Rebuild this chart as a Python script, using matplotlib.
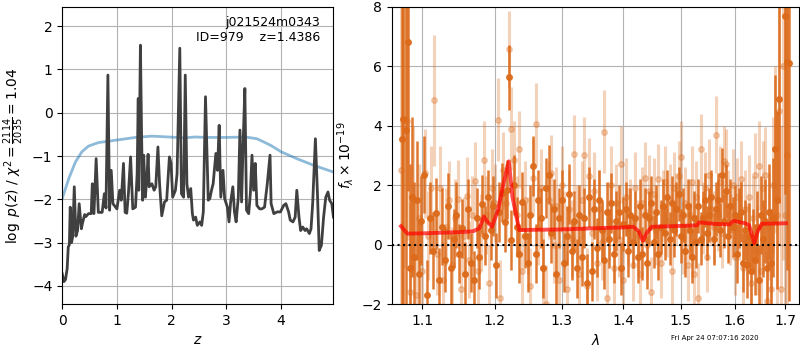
import numpy as np
import matplotlib
matplotlib.use('Agg')
import matplotlib.pyplot as plt
from matplotlib.ticker import FormatStrFormatter, NullLocator, NullFormatter

# --- p(z) panel ---
z_grid = [0.0, 0.03, 0.06, 0.09, 0.11, 0.13, 0.146, 0.17, 0.19, 0.22, 0.25, 0.28, 0.31, 0.35,
          0.37, 0.41, 0.43, 0.48, 0.53, 0.55, 0.58, 0.62, 0.66, 0.73, 0.77, 0.80, 0.835, 0.866,
          0.896, 0.927, 1.0, 1.05, 1.08, 1.12, 1.15, 1.18, 1.21, 1.25, 1.29, 1.34, 1.37, 1.39,
          1.40, 1.43, 1.45, 1.47, 1.49, 1.52, 1.55, 1.57, 1.59, 1.64, 1.68, 1.71, 1.75, 1.78,
          1.82, 1.87, 1.91, 1.96, 1.99, 2.02, 2.07, 2.10, 2.15, 2.18, 2.22, 2.25, 2.28, 2.31,
          2.35, 2.38, 2.40, 2.44, 2.47, 2.52, 2.55, 2.58, 2.62, 2.67, 2.70, 2.73, 2.76, 2.81,
          2.84, 2.87, 2.90, 2.94, 2.97, 3.02, 3.05, 3.08, 3.12, 3.15, 3.18, 3.22, 3.25, 3.28,
          3.31, 3.34, 3.37, 3.41, 3.44, 3.47, 3.50, 3.53, 3.56, 3.61, 3.65, 3.70, 3.75, 3.80,
          3.82, 3.87, 3.93, 3.99, 4.05, 4.09, 4.14, 4.17, 4.22, 4.26, 4.29, 4.33, 4.36, 4.40,
          4.44, 4.47, 4.52, 4.55, 4.58, 4.63, 4.67, 4.70, 4.74, 4.78, 4.82, 4.86, 4.89, 4.93, 4.96]
log_pz = [-3.72, -3.90, -3.85, -3.60, -3.10, -3.05, -2.18, -3.00, -2.87, -1.71, -2.85, -2.72, -2.10, -2.68,
          -2.55, -2.35, -2.40, -2.33, -2.33, -1.64, -2.33, -1.06, -2.30, -2.30, -1.87, -2.20, 0.87, -2.25,
          -1.33, -2.10, -2.22, -1.79, -2.02, -1.17, -2.30, -2.32, -1.87, -1.02, -2.22, -2.18, -1.41, 0.33,
          -1.79, 1.56, -0.40, -2.02, -0.98, -1.95, -1.48, -0.96, -1.71, -1.64, -1.79, -1.71, -0.79, -1.64,
          -2.38, -2.06, -2.02, -1.02, -1.17, -1.95, -1.79, -1.41, 1.49, -1.87, -1.95, 0.87, -1.64, -1.95,
          -1.75, -2.33, -2.48, -2.41, -2.60, -2.52, -2.60, -2.29, 0.37, -2.02, -1.98, -1.79, -1.64, -0.94,
          -1.33, -0.29, -1.95, -1.33, -1.98, -2.18, -2.52, -2.06, -1.71, -2.29, -2.52, -1.95, -0.40, -2.06,
          -0.63, 0.56, -2.25, -2.33, -1.87, -0.98, -1.79, -1.17, -2.14, -2.22, -2.22, -2.18, -1.64, -0.98,
          -2.10, -2.33, -2.29, -2.29, -2.14, -2.10, -2.29, -2.48, -2.52, -2.41, -1.79, -2.41, -2.72, -2.64,
          -2.72, -2.68, -2.79, -2.68, -2.10, -0.60, -1.95, -3.18, -3.06, -2.41, -1.95, -1.83, -2.02, -2.10, -2.41]

z_chi = [0.0, 0.12, 0.24, 0.36, 0.48, 0.66, 1.0, 1.34, 1.64, 1.95, 2.22, 2.43, 2.65, 3.0, 3.35, 3.56,
         3.81, 4.0, 4.29, 4.59, 4.96]
chi_curve = [-1.98, -1.52, -1.14, -0.90, -0.77, -0.69, -0.63, -0.57, -0.54, -0.56, -0.58, -0.56, -0.57,
             -0.57, -0.56, -0.60, -0.75, -0.90, -1.06, -1.21, -1.37]

# --- spectrum panel ---
model_lam = [1.0723, 1.0804, 1.10, 1.15, 1.169, 1.178, 1.1842, 1.190, 1.196, 1.205, 1.212, 1.2203,
             1.2256, 1.2356, 1.26, 1.30, 1.35, 1.40, 1.4169, 1.426, 1.4332, 1.440, 1.4486, 1.50, 1.5297,
             1.533, 1.56, 1.59, 1.598, 1.62, 1.628, 1.638, 1.645, 1.653, 1.680, 1.7014]
model_flux = [0.62, 0.37, 0.38, 0.42, 0.45, 0.55, 0.94, 0.75, 0.60, 1.20, 2.00, 2.80,
              1.60, 0.49, 0.50, 0.51, 0.55, 0.58, 0.60, 0.45, 0.13, 0.40, 0.60, 0.63, 0.65,
              0.75, 0.70, 0.68, 0.80, 0.72, 0.65, 0.05, 0.45, 0.70, 0.71, 0.72]

dark_lam = [1.0732, 1.0750, 1.0787, 1.0810, 1.0834, 1.0863, 1.0893, 1.0926, 1.0950,
            1.098, 1.102, 1.106, 1.110, 1.114, 1.118, 1.122, 1.126, 1.130, 1.134,
            1.138, 1.142, 1.146, 1.150, 1.154, 1.158, 1.162, 1.166, 1.170, 1.174,
            1.178, 1.182, 1.186, 1.190, 1.194, 1.198, 1.202, 1.206, 1.210, 1.214,
            1.217, 1.2203, 1.224, 1.228, 1.232, 1.236, 1.240, 1.244, 1.248, 1.252,
            1.256, 1.260, 1.264, 1.268, 1.272, 1.276, 1.280, 1.284, 1.288, 1.292,
            1.296, 1.300, 1.304, 1.308, 1.312, 1.316, 1.320, 1.324, 1.328, 1.332,
            1.336, 1.340, 1.344, 1.348, 1.352, 1.356, 1.360, 1.364, 1.368, 1.372,
            1.376, 1.380, 1.384, 1.388, 1.392, 1.396, 1.400, 1.404, 1.408, 1.412,
            1.416, 1.420, 1.424, 1.428, 1.432, 1.436, 1.440, 1.444, 1.448, 1.452,
            1.456, 1.460, 1.464, 1.468, 1.472, 1.476, 1.480, 1.484, 1.488, 1.492,
            1.496, 1.500, 1.504, 1.508, 1.512, 1.516, 1.520, 1.524, 1.528, 1.532,
            1.536, 1.540, 1.544, 1.548, 1.552, 1.556, 1.560, 1.564, 1.568, 1.572,
            1.576, 1.580, 1.584, 1.588, 1.592, 1.596, 1.600, 1.604, 1.608, 1.612,
            1.616, 1.620, 1.624, 1.628, 1.632, 1.636, 1.640, 1.644, 1.648, 1.652,
            1.656, 1.660, 1.664, 1.668, 1.672, 1.676, 1.680, 1.684, 1.688, 1.699,
            1.703, 1.707]
dark_flux = [3.55, 4.22, 3.85, 6.80, -0.80, 1.60, -0.40, 1.50, -1.00,
             0.80, 2.35, -1.70, 0.90, -0.20, 1.05, -1.20, 0.60, -0.50, 1.30,
             -0.80, 0.20, 1.00, -0.30, 0.55, -1.00, 1.20, -0.60, -1.20, 0.90,
             -0.40, 1.35, 0.30, 1.60, 0.50, 1.30, -0.70, 1.10, 1.75, 0.75,
             1.85, 5.62, 0.15, 2.00, 0.60, -0.30, 1.45, 0.30, -0.60, 1.00,
             2.65, -0.30, 1.50, 0.90, -0.80, 1.90, 2.35, 0.40, 1.20, -1.00,
             0.90, 1.50, -0.60, 0.30, 1.70, -0.20, 0.80, -0.80, 1.00, -0.40,
             0.90, -1.30, 1.60, -0.90, 1.20, -0.10, 1.50, 0.50, -0.50, 1.10,
             0.20, 1.40, -0.30, 0.80, 1.10, -0.80, 0.70, 1.20, -0.20, 1.00,
             0.10, 0.90, -0.40, 1.30, -0.30, 1.00, -0.60, 0.90, 1.40, 0.10,
             1.10, -0.30, 0.60, 1.30, 0.40, 1.60, 0.20, 1.40, 0.50, 1.20,
             1.70, 0.30, 1.00, -0.20, 1.30, 0.50, -0.40, 0.90, 0.10, 1.30,
             0.20, 0.90, 1.50, 0.40, 1.00, 1.60, 0.20, 1.20, 1.50, 0.50,
             2.35, 0.80, 1.80, 0.30, 1.30, 0.60, 1.00, -0.30, 0.90, 1.10,
             -0.60, 0.50, -0.70, 0.30, -0.90, 0.10, -0.50, 0.60, -1.20, 1.00,
             0.20, 0.80, -0.80, 1.10, -0.60, 0.90, 3.20, 1.50, 4.90, 7.70,
             6.15, 6.10]
dark_err = [8.0, 7.0, 6.0, 5.0, 3.5, 2.7, 2.5, 2.0, 1.8,
            1.5, 1.3, 1.2, 1.2, 1.3, 1.2, 1.1, 1.3, 1.1, 1.1,
            1.2, 1.0, 1.1, 1.0, 1.0, 1.1, 1.0, 1.0, 1.0, 1.0,
            1.1, 1.0, 1.0, 0.9, 1.0, 1.0, 1.1, 1.0, 1.0, 1.0,
            1.0, 1.1, 1.0, 1.0, 1.0, 1.0, 1.0, 1.1, 1.0, 1.0,
            1.0, 1.0, 1.0, 1.0, 1.0, 1.0, 1.0, 1.0, 1.0, 1.0,
            1.0, 1.0, 1.0, 1.0, 1.0, 1.0, 1.0, 1.0, 1.0, 1.0,
            1.0, 1.0, 1.0, 1.0, 1.0, 1.0, 1.0, 1.0, 1.0, 1.0,
            1.0, 1.0, 1.0, 1.0, 0.9, 0.9, 0.9, 0.9, 0.9, 0.9,
            0.9, 0.9, 0.9, 0.9, 0.9, 0.9, 0.9, 0.9, 0.9, 0.9,
            0.9, 0.9, 0.9, 0.9, 0.9, 0.9, 0.9, 0.9, 0.9, 0.9,
            0.9, 0.9, 0.9, 0.9, 0.9, 0.9, 0.9, 0.9, 0.9, 0.9,
            0.9, 0.9, 0.9, 0.9, 0.9, 0.9, 0.9, 0.9, 0.9, 0.9,
            0.9, 0.9, 0.9, 0.9, 0.9, 1.0, 1.0, 1.0, 1.0, 1.0,
            1.0, 1.0, 1.1, 1.1, 1.1, 1.1, 1.2, 1.2, 1.2, 1.3,
            1.3, 1.4, 1.5, 1.6, 1.8, 2.0, 2.5, 3.0, 3.5, 6.0,
            7.0, 8.0]

light_lam = [1.072, 1.076, 1.080, 1.084, 1.088, 1.092, 1.096, 1.100, 1.104, 1.108, 1.112, 1.116,
             1.120, 1.124, 1.128, 1.132, 1.136, 1.140, 1.144, 1.148, 1.152, 1.156, 1.160, 1.164,
             1.168, 1.172, 1.176, 1.180, 1.184, 1.188, 1.192, 1.196, 1.200, 1.204, 1.208, 1.212,
             1.216, 1.2205, 1.224, 1.228, 1.232, 1.236, 1.240, 1.244, 1.248, 1.252, 1.256, 1.260,
             1.264, 1.268, 1.272, 1.276, 1.280, 1.284, 1.288, 1.292, 1.296, 1.300, 1.304, 1.308,
             1.312, 1.316, 1.320, 1.324, 1.328, 1.332, 1.336, 1.340, 1.344, 1.348, 1.352, 1.356,
             1.360, 1.364, 1.368, 1.372, 1.376, 1.380, 1.384, 1.388, 1.392, 1.396, 1.400, 1.404,
             1.408, 1.412, 1.416, 1.420, 1.424, 1.428, 1.432, 1.436, 1.440, 1.444, 1.448, 1.452,
             1.456, 1.460, 1.464, 1.468, 1.472, 1.476, 1.480, 1.484, 1.488, 1.492, 1.496, 1.500,
             1.504, 1.508, 1.512, 1.516, 1.520, 1.524, 1.528, 1.532, 1.536, 1.540, 1.544, 1.548,
             1.552, 1.556, 1.560, 1.564, 1.568, 1.572, 1.576, 1.580, 1.584, 1.588, 1.592, 1.596,
             1.600, 1.604, 1.608, 1.612, 1.616, 1.620, 1.624, 1.628, 1.632, 1.636, 1.640, 1.644,
             1.648, 1.652, 1.656, 1.660, 1.664, 1.668, 1.672, 1.676, 1.680, 1.684, 1.688, 1.692,
             1.696, 1.700, 1.704]
light_flux = [2.50, 4.20, 4.15, -1.60, 1.50, -1.70, 0.90, -0.90, 2.40, 0.30, 1.90, 4.85,
              -0.30, 1.90, -1.20, 0.60, 1.50, -0.70, 0.90, 1.55, -1.50, 0.30, 1.65, -0.50,
              1.00, 2.15, -0.90, 0.40, 2.85, 1.00, -1.30, 1.90, 1.40, 4.20, -1.80, 2.50,
              1.40, 6.57, 3.90, 2.85, 1.00, 3.20, -0.90, 1.50, 0.30, -1.40, 2.25, 4.05,
              0.60, 1.90, -0.80, -2.00, 1.50, 2.40, 0.00, 1.30, -1.20, 2.00, 0.50, -1.50,
              1.20, 0.20, 3.05, 0.70, -1.00, 1.50, 3.00, -1.40, 2.30, 0.40, 1.80, -0.60,
              1.20, 0.10, 3.80, -1.80, 0.80, 2.00, -0.80, 1.40, 0.20, 2.70, -1.20, 1.60,
              0.60, 1.00, -0.70, 1.90, 0.30, -1.00, 1.40, 2.25, 0.00, 1.80, -1.60, 1.70,
              0.50, 2.20, -0.60, 1.30, 2.10, 0.80, 1.50, -0.90, 1.90, 1.20, 2.30, 2.95,
              0.20, 1.40, -0.70, 1.00, 2.10, -1.00, 1.60, -1.80, 3.20, 0.90, 1.90, -0.40,
              2.35, 1.20, 0.60, 3.70, 1.00, 2.10, 0.40, 2.80, 2.70, 1.30, 0.50, 2.00,
              -0.40, 1.60, 0.80, 2.20, -0.80, 1.20, 0.10, 1.60, -1.30, 0.90, 2.35, -0.20,
              2.65, -0.90, 1.90, 2.35, -1.90, 0.60, -1.50, 2.00, 3.20, 1.00, 4.50, -1.50,
              6.00, 1.00, 3.00]
light_err = [6.0, 5.0, 4.0, 3.0, 2.5, 2.0, 1.8, 1.6, 1.5, 1.5, 1.4, 2.2,
             1.4, 1.4, 1.3, 1.3, 1.3, 1.3, 1.3, 1.3, 1.3, 1.3, 1.3, 1.3,
             1.3, 1.3, 1.3, 1.3, 1.3, 1.3, 1.3, 1.3, 1.3, 1.4, 1.3, 1.3,
             1.3, 1.3, 1.4, 1.3, 1.3, 1.3, 1.3, 1.3, 1.3, 1.3, 1.3, 1.4,
             1.3, 1.3, 1.3, 1.3, 1.3, 1.3, 1.3, 1.3, 1.3, 1.3, 1.3, 1.3,
             1.3, 1.3, 1.3, 1.3, 1.3, 1.3, 1.3, 1.3, 1.3, 1.3, 1.3, 1.3,
             1.3, 1.3, 1.4, 1.3, 1.3, 1.3, 1.3, 1.3, 1.3, 1.3, 1.3, 1.3,
             1.3, 1.2, 1.2, 1.2, 1.2, 1.2, 1.2, 1.2, 1.2, 1.2, 1.2, 1.2,
             1.2, 1.2, 1.2, 1.2, 1.2, 1.2, 1.2, 1.2, 1.2, 1.2, 1.2, 1.2,
             1.2, 1.2, 1.2, 1.2, 1.2, 1.2, 1.2, 1.2, 1.2, 1.2, 1.2, 1.2,
             1.2, 1.2, 1.2, 1.3, 1.2, 1.2, 1.2, 1.2, 1.2, 1.2, 1.2, 1.2,
             1.3, 1.3, 1.3, 1.3, 1.3, 1.3, 1.3, 1.4, 1.4, 1.4, 1.4, 1.5,
             1.5, 1.5, 1.6, 1.6, 1.7, 1.8, 2.0, 2.3, 2.8, 3.5, 4.5, 5.5,
             6.5, 7.0, 8.0]

xticks_lam = [1.1, 1.2, 1.3, 1.4, 1.5, 1.6, 1.7]
spec_color = '#dc6a1a'

fig = plt.figure(figsize=(8, 3.5), dpi=100)
ax1 = fig.add_axes([0.0778, 0.131, 0.339, 0.850])
ax2 = fig.add_axes([0.4896, 0.131, 0.5094, 0.850])

# left: p(z)
ax1.plot(z_chi, chi_curve, color='tab:blue', alpha=0.5, lw=2)
ax1.plot(z_grid, log_pz, color='0.25', lw=2)
ax1.set_xlim(0, 4.96)
ax1.set_ylim(-4.42, 2.45)
ax1.set_xticks([0, 1, 2, 3, 4])
ax1.set_yticks([-4, -3, -2, -1, 0, 1, 2])
ax1.grid(True, color='0.7')
ax1.set_axisbelow(True)
ax1.set_xlabel('$z$')
ax1.set_ylabel(r'$\log\ p(z)$ / $\chi^2=\frac{2114}{2035}=1.04$')
ax1.text(0.95, 0.97, 'j021524m0343\nID=979    z=1.4386', ha='right', va='top',
         transform=ax1.transAxes, fontsize=9)

# right: spectrum
ax2.errorbar(light_lam, light_flux, yerr=light_err, fmt='o', color=spec_color, alpha=0.3,
             markersize=4, elinewidth=2.2, capsize=0)
ax2.errorbar(dark_lam, dark_flux, yerr=dark_err, fmt='o', color=spec_color, alpha=0.9,
             markersize=4, elinewidth=1.8, capsize=0)
ax2.plot(model_lam, model_flux, color='red', alpha=0.7, lw=2.8, zorder=5)
ax2.axhline(0, color='black', linestyle=':', lw=1.5, zorder=6)
ax2.set_xscale('log')
ax2.set_xlim(1.0603, 1.7288)
ax2.set_ylim(-2, 8)
ax2.set_xticks(xticks_lam)
ax2.xaxis.set_major_formatter(FormatStrFormatter('%.1f'))
ax2.xaxis.set_minor_locator(NullLocator())
ax2.xaxis.set_minor_formatter(NullFormatter())
ax2.set_yticks([-2, 0, 2, 4, 6, 8])
ax2.grid(True, color='0.7')
ax2.set_axisbelow(True)
ax2.set_xlabel(r'$\lambda$')
ax2.set_ylabel(r'$f_\lambda\times10^{-19}$')

fig.text(0.948, 0.027, 'Fri Apr 24 07:07:16 2020', ha='right', va='bottom', fontsize=5)

plt.savefig('out.png', dpi=100)
